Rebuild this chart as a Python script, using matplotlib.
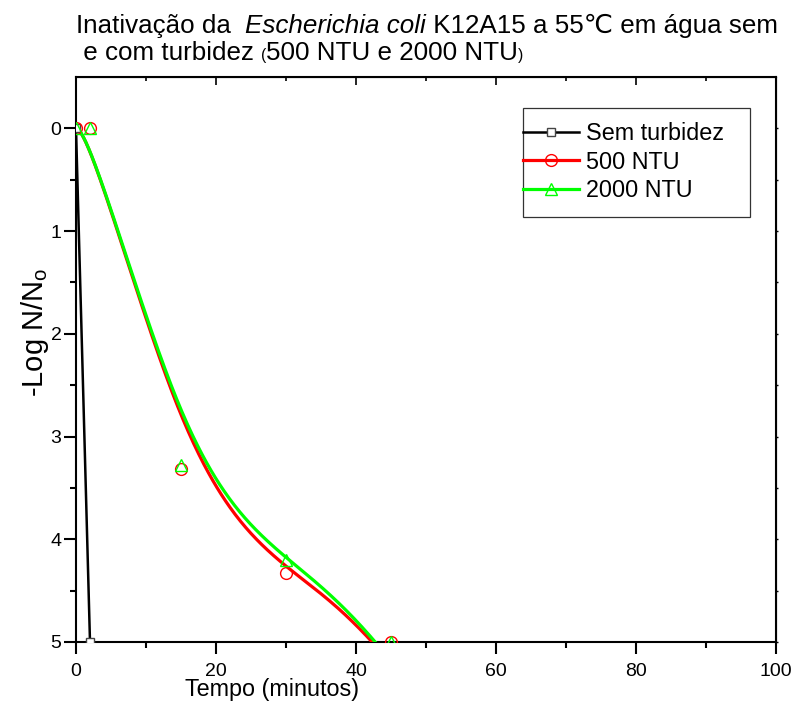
import numpy as np
import matplotlib
matplotlib.use("Agg")
import matplotlib.pyplot as plt
from matplotlib.lines import Line2D
from matplotlib.patches import Rectangle

plt.rcParams['font.family'] = ['Liberation Sans', 'DejaVu Sans']
plt.rcParams['mathtext.fontset'] = 'custom'
plt.rcParams['mathtext.rm'] = 'Liberation Sans'
plt.rcParams['mathtext.it'] = 'Liberation Sans:italic'

# dados (o ultimo ponto de cada serie fica fora da escala, abaixo de 5)
t_sem = [0, 2]
y_sem = [0, 5]
t_500 = [0, 2, 15, 30, 45, 60]
y_500 = [0, 0, 3.32, 4.33, 5, 6.7]
t_2000 = [0, 2, 15, 30, 45, 60]
y_2000 = [0, 0, 3.28, 4.20, 5, 6.7]
labels = ['Sem turbidez', '500 NTU', '2000 NTU']


def bspline(x, y, k=3, n=400):
    # B-spline com os pontos como pontos de controle (como no Origin)
    P = np.column_stack([x, y]).astype(float)
    m = len(P)
    k = min(k, m - 1)
    knots = np.concatenate([np.zeros(k), np.linspace(0, 1, m - k + 1), np.ones(k)])
    u = np.linspace(0, 1 - 1e-10, n)
    N = np.zeros((n, len(knots) - 1))
    for i in range(len(knots) - 1):
        N[:, i] = (knots[i] <= u) & (u < knots[i + 1])
    for d in range(1, k + 1):
        Nn = np.zeros((n, len(knots) - 1 - d))
        for i in range(len(knots) - 1 - d):
            a = knots[i + d] - knots[i]
            b = knots[i + d + 1] - knots[i + 1]
            t1 = (u - knots[i]) / a * N[:, i] if a > 0 else 0
            t2 = (knots[i + d + 1] - u) / b * N[:, i + 1] if b > 0 else 0
            Nn[:, i] = t1 + t2
        N = Nn
    c = N @ P
    return c[:, 0], c[:, 1]


fig = plt.figure(figsize=(7.94, 7.02), dpi=100)
ax = fig.add_axes([76/794, 60/702, 700/794, 565/702])

for t, y, c in [(t_500, y_500, '#ff0000'), (t_2000, y_2000, '#00ff00')]:
    bx, by = bspline(t, y)
    ax.plot(bx, by, color=c, lw=2.3, zorder=3)
bx, by = bspline(t_sem, y_sem)
ax.plot(bx, by, color='black', lw=1.8, zorder=3)

ax.plot(t_sem, y_sem, ls='none', marker='s', ms=6, mfc='white', mec='#444444', mew=1, zorder=4)
ax.plot(t_500, y_500, ls='none', marker='o', ms=8.5, mfc='none', mec='#ff0000', mew=1, zorder=4)
ax.plot(t_2000, y_2000, ls='none', marker='^', ms=9, mfc='none', mec='#00ff00', mew=1, zorder=4)

ax.set_xlim(0, 100)
ax.set_ylim(5, -0.5)
ax.set_xticks([0, 20, 40, 60, 80, 100])
ax.set_xticks([10, 30, 50, 70, 90], minor=True)
ax.set_yticks([0, 1, 2, 3, 4, 5])
ax.set_yticks([0.5, 1.5, 2.5, 3.5, 4.5], minor=True)
for s in ax.spines.values():
    s.set_linewidth(1.5)
ax.tick_params(which='both', direction='out', width=1.5, labelsize=14, colors='black')
ax.tick_params(which='major', length=8.5)
ax.tick_params(which='minor', length=4.5)
ax.tick_params(axis='x', pad=6.5)
ax.tick_params(axis='y', pad=2)
sx = ax.secondary_xaxis('top')
sx.set_xticks([0, 20, 40, 60, 80, 100])
sx.set_xticks([10, 30, 50, 70, 90], minor=True)
sx.tick_params(which='both', direction='in', labeltop=False, width=1.2, length=6)
sx.tick_params(which='minor', length=3)
sy = ax.secondary_yaxis('right')
sy.set_yticks([0, 1, 2, 3, 4, 5])
sy.set_yticks([0.5, 1.5, 2.5, 3.5, 4.5], minor=True)
sy.tick_params(which='both', direction='out', labelright=False, width=1, length=1.5)

fig.text(272/794, 1 - 696/702, 'Tempo (minutos)', ha='center', va='baseline', fontsize=16.8)
fig.text(35/794, 1 - 332/702, '-Log N/N$_\\mathrm{o}$', ha='center', va='center',
         rotation=90, fontsize=21)

# legenda
handles = [
    Line2D([], [], color='black', lw=1.8, marker='s', ms=6, mfc='white', mec='#444444', mew=1),
    Line2D([], [], color='#ff0000', lw=2.3, marker='o', ms=8.5, mfc='none', mec='#ff0000', mew=1),
    Line2D([], [], color='#00ff00', lw=2.3, marker='^', ms=9, mfc='none', mec='#00ff00', mew=1),
]
ax.legend(handles, labels, loc='upper left', bbox_to_anchor=((523-76)/700, 1 - (122-77)/565),
          frameon=False, borderpad=0, borderaxespad=0, handlelength=2.4, handletextpad=0.3,
          labelspacing=0.24, fontsize=16.8, numpoints=1)
ax.add_patch(Rectangle(((523-76)/700, 1 - (217-77)/565), (750-523)/700, (217-108)/565,
                       transform=ax.transAxes, fill=False, ec='#333333', lw=0.9,
                       clip_on=False, zorder=5))

# titulo
fam = ['Liberation Sans', 'DejaVu Sans']
y1 = 1 - 33/702
y2 = 1 - 60/702
row1 = [fig.text(76/794, y1, 'Inativação da  ', family=fam, va='baseline'),
        fig.text(0, y1, 'Escherichia coli', family=fam, style='italic', va='baseline'),
        fig.text(0, y1, ' K12A15 a 55℃ em água sem', family=fam, va='baseline')]
row2 = [fig.text(76/794, y2, ' e com turbidez ', family=fam, va='baseline'),
        fig.text(0, y2, '(', family=fam, va='baseline'),
        fig.text(0, y2, '500 NTU e 2000 NTU', family=fam, va='baseline'),
        fig.text(0, y2, ')', family=fam, va='baseline')]
small = [row2[1], row2[3]]


def layout(size):
    for tx in row1 + row2:
        tx.set_fontsize(size * (0.6 if tx in small else 1))
    fig.canvas.draw()
    r = fig.canvas.get_renderer()
    for row in (row1, row2):
        for a, b in zip(row[:-1], row[1:]):
            b.set_x(a.get_window_extent(r).x1 / fig.bbox.width)
    fig.canvas.draw()
    return row1[-1].get_window_extent(r).x1 - row1[0].get_window_extent(r).x0


w = layout(20)
layout(20 * 700 / w)

fig.savefig('out.png', dpi=100)
